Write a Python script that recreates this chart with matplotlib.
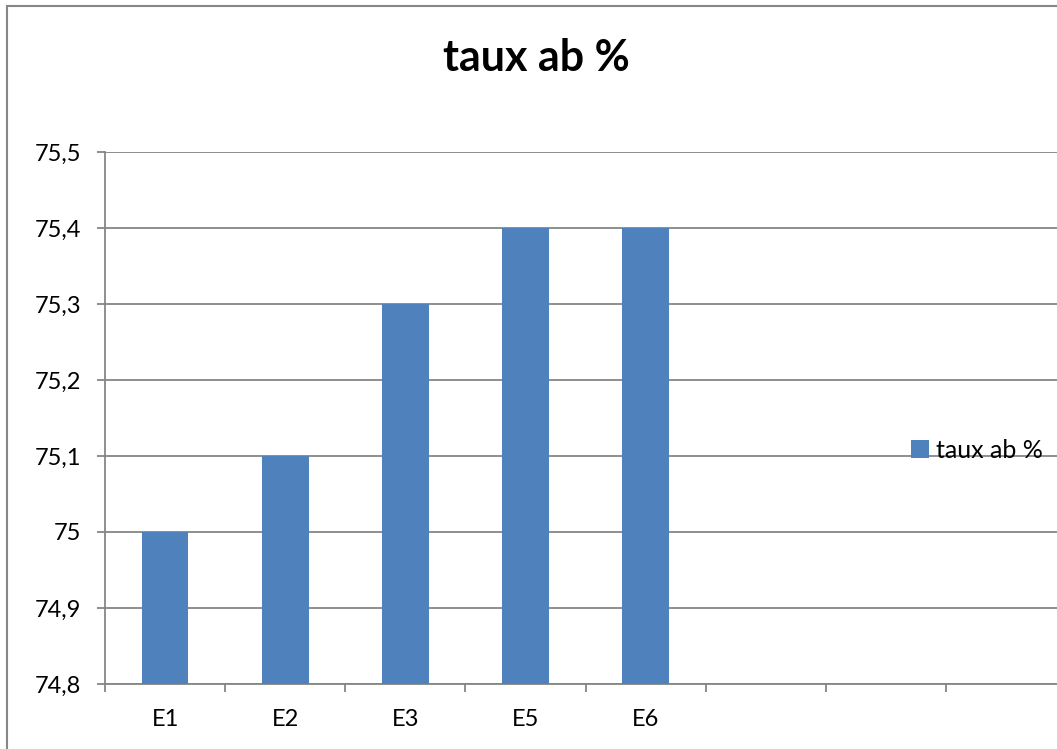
import numpy as np
import matplotlib
matplotlib.use("Agg")
from matplotlib import pyplot as plt
from matplotlib.patches import Rectangle

categories = ["E1", "E2", "E3", "E5", "E6", "", "", ""]
values = [75.0, 75.1, 75.3, 75.4, 75.4, np.nan, np.nan, np.nan]
yticks = [74.8, 74.9, 75.0, 75.1, 75.2, 75.3, 75.4, 75.5]
ylabels = ["74,8", "74,9", "75", "75,1", "75,2", "75,3", "75,4", "75,5"]

plt.rcParams['font.family'] = ['Lato', 'DejaVu Sans']
W, H = 1057, 749
fig = plt.figure(figsize=(W / 100, H / 100), dpi=100)

grey = '#868686'
blue = '#4F81BD'

# outer chart border (runs off the right/bottom of the picture)
fig.patches.append(Rectangle((7 / W, -0.1), 1.2, 1 - 6 / H + 0.1, transform=fig.transFigure,
                             fill=False, edgecolor=grey, lw=1.5))

ax = fig.add_axes([105 / W, 65 / H, (1066 - 105) / W, 532 / H])
x = np.arange(len(categories))
ax.bar(x, values, width=0.39, color=blue, zorder=3, label="taux ab %")

ax.set_xlim(-0.5, len(categories) - 0.5)
ax.set_ylim(74.8, 75.5)
ax.set_yticks(yticks)
ax.set_yticklabels(ylabels, fontsize=17)
ax.yaxis.grid(True, color=grey, lw=1.3, zorder=0)

ax.set_xticks(np.arange(-0.5, len(categories), 1.0))
ax.set_xticklabels([])
ax.set_xticks(x, minor=True)
ax.set_xticklabels(categories, minor=True, fontsize=17)
ax.tick_params(axis='x', which='major', length=6, width=1.3, color=grey)
ax.tick_params(axis='x', which='minor', length=0, pad=18)
ax.tick_params(axis='y', length=6, width=1.3, color=grey, pad=11)

for s in ['top', 'right']:
    ax.spines[s].set_visible(False)
for s in ['left', 'bottom']:
    ax.spines[s].set_color(grey)
    ax.spines[s].set_linewidth(1.3)

fig.text(536 / W, 1 - 58 / H, "taux ab %", ha='center', va='center',
         fontsize=31, fontweight='bold')

fig.legend(loc='center left', bbox_to_anchor=(906 / W, 1 - 450 / H), frameon=False,
           fontsize=18, handlelength=0.7, handleheight=0.7, handletextpad=0.3,
           borderpad=0.2, borderaxespad=0.0)

fig.savefig("out.png", dpi=100)
